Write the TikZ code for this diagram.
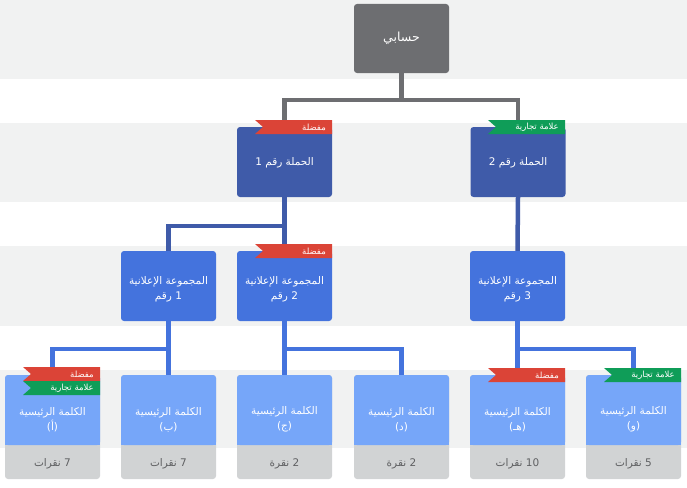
\documentclass[tikz,border=0pt]{standalone}
\usepackage{fontspec}
\setmainfont{DejaVu Sans}
\newfontfamily\ar[Script=Arabic]{DejaVu Sans}
\TeXXeTstate=1
\usetikzlibrary{calc}
\definecolor{band}{HTML}{F1F2F2}
\definecolor{rootc}{HTML}{6D6E71}
\definecolor{campc}{HTML}{3F5BA9}
\definecolor{grpc}{HTML}{4473DD}
\definecolor{kwc}{HTML}{76A6F9}
\definecolor{cntc}{HTML}{D1D3D4}
\definecolor{cnttext}{HTML}{5F6062}
\definecolor{flagred}{HTML}{DB4437}
\definecolor{flaggreen}{HTML}{0F9D58}
\pgfdeclarelayer{back}
\pgfdeclarelayer{lines}
\pgfsetlayers{back,lines,main}
\newcommand\flag[5]{%
  \fill[#4] (#2-77,#3) -- (#2,#3) -- (#2,#3+14) -- (#2-77,#3+14) -- (#2-69,#3+7) -- cycle;
  \node[flagtext] (#1) at (#2-6,#3+7.5) {#5};
}
\newcommand\kwbox[4]{%
  \node[kwbase] (#1b) at (#2,427) {};
  \fill[kwc] (#2-47.5,432) rectangle (#2+47.5,445);
  \node[kwstyle] (#1) at (#2,410) {};
  \node[boxtext] (#1t) at (#2,419.5) {\beginR الكلمة الرئيسية\endR\\(#3)};
  \node[counttext] (#1c) at (#2,464) {#4};
}
\begin{document}
\begin{tikzpicture}[x=1pt,y=-1pt,
  boxstyle/.style={rectangle, rounded corners=3pt, minimum width=95pt, minimum height=70pt, inner sep=0pt},
  rootstyle/.style={boxstyle, fill=rootc, minimum height=69pt, text=white, font=\ar\fontsize{12.5}{14}\selectfont},
  campstyle/.style={boxstyle, fill=campc},
  grpstyle/.style={boxstyle, fill=grpc},
  kwstyle/.style={boxstyle, fill=kwc},
  kwbase/.style={boxstyle, fill=cntc, minimum height=104pt},
  boxtext/.style={text=white, align=center, inner sep=0pt, font=\ar\fontsize{10.5}{15}\selectfont},
  counttext/.style={text=cnttext, inner sep=0pt, font=\ar\fontsize{10.5}{12}\selectfont},
  flagtext/.style={anchor=east, text=white, inner sep=0pt, font=\ar\fontsize{8.5}{9}\selectfont},
  conn/.style={line width=4.5pt},
]
\useasboundingbox (0,0) rectangle (687,487);
\begin{pgfonlayer}{back}
  \fill[band] (0,0) rectangle (687,79);
  \fill[band] (0,123) rectangle (687,202);
  \fill[band] (0,246) rectangle (687,326);
  \fill[band] (0,370) rectangle (687,448);
\end{pgfonlayer}

% root
\node[rootstyle] (root) at (401.5,38.5) {حسابي};

% campaigns
\node[campstyle] (c1) at (284.5,162) {};
\node[boxtext] (c1t) at (284.5,163) {\beginR الحملة رقم 1\endR};
\node[campstyle] (c2) at (518,162) {};
\node[boxtext] (c2t) at (518,163) {\beginR الحملة رقم 2\endR};

% ad groups
\node[grpstyle] (g1) at (168.5,286) {};
\node[boxtext] (g1t) at (168.5,289.5) {\beginR المجموعة الإعلانية\endR\\\beginR 1 رقم\endR};
\node[grpstyle] (g2) at (284.5,286) {};
\node[boxtext] (g2t) at (284.5,289.5) {\beginR المجموعة الإعلانية\endR\\\beginR 2 رقم\endR};
\node[grpstyle] (g3) at (517.5,286) {};
\node[boxtext] (g3t) at (517.5,289.5) {\beginR المجموعة الإعلانية\endR\\\beginR 3 رقم\endR};

% keywords
\kwbox{kwa}{52.5}{أ}{\beginR 7 نقرات\endR}
\kwbox{kwb}{168.5}{ب}{\beginR 7 نقرات\endR}
\kwbox{kwc}{284.5}{ج}{\beginR 2 نقرة\endR}
\kwbox{kwd}{401.5}{د}{\beginR 2 نقرة\endR}
\kwbox{kwe}{517.5}{هـ}{\beginR 10 نقرات\endR}
\kwbox{kwf}{633.5}{و}{\beginR 5 نقرات\endR}

% connectors
\begin{pgfonlayer}{lines}
  \coordinate (j0) at (401.5,100);
  \draw[conn, rootc] (root.south) -- (j0);
  \draw[conn, rootc] (c1.north) |- (j0) -| (c2.north);
  \coordinate (j1) at (284.5,226);
  \draw[conn, campc] (c1.south) -- (g2.north);
  \draw[conn, campc] (g1.north) |- (j1);
  \draw[conn, campc] (c2.south) -- (g3.north);
  \coordinate (j2) at (168.5,349);
  \draw[conn, grpc] (g1.south) -- (kwb.north);
  \draw[conn, grpc] (kwa.north) |- (j2);
  \coordinate (j3) at (284.5,349);
  \draw[conn, grpc] (g2.south) -- (kwc.north);
  \draw[conn, grpc] (kwd.north) |- (j3);
  \coordinate (j4) at (517.5,349);
  \draw[conn, grpc] (g3.south) -- (kwe.north);
  \draw[conn, grpc] (kwf.north) |- (j4);
\end{pgfonlayer}

% flags
\flag{fc1}{332}{120}{flagred}{مفضلة}
\flag{fc2}{565}{120}{flaggreen}{\beginR علامة تجارية\endR}
\flag{fg2}{332}{244}{flagred}{مفضلة}
\flag{fkwa1}{100}{367}{flagred}{مفضلة}
\flag{fkwa2}{100}{381}{flaggreen}{\beginR علامة تجارية\endR}
\flag{fkwe}{565}{368}{flagred}{مفضلة}
\flag{fkwf}{681}{368}{flaggreen}{\beginR علامة تجارية\endR}
\end{tikzpicture}
\end{document}
